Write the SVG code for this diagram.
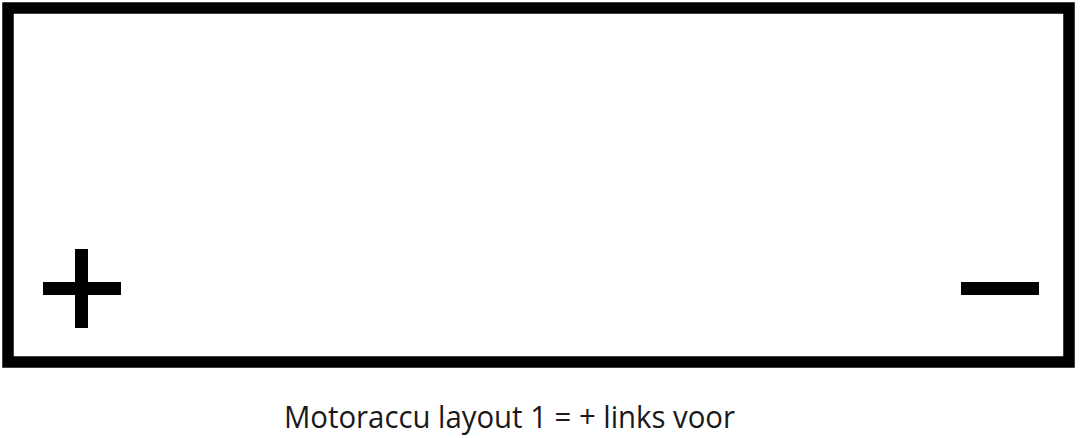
<svg xmlns="http://www.w3.org/2000/svg" width="1080" height="438" viewBox="0 0 1080 438">
<style>
.bar{fill:#000}
.lbl{font-family:"Open Sans","Liberation Sans",sans-serif;font-size:31px;fill:#1a1a1a}
</style>
<rect x="0" y="0" width="1080" height="438" fill="#fff"/>
<g id="battery">
<rect x="8" y="8" width="1061" height="354" fill="none" stroke="#000" stroke-width="11.5"/>
</g>
<g id="plus">
<rect class="bar" x="43" y="282" width="78" height="13"/>
<rect class="bar" x="75" y="249" width="13" height="79"/>
</g>
<g id="minus">
<rect class="bar" x="961" y="282" width="78" height="13"/>
</g>
<g id="connectors"></g>
<g id="caption">
<text class="lbl" x="284" y="428" textLength="451" lengthAdjust="spacingAndGlyphs">Motoraccu layout 1 = + links voor</text>
</g>
</svg>
